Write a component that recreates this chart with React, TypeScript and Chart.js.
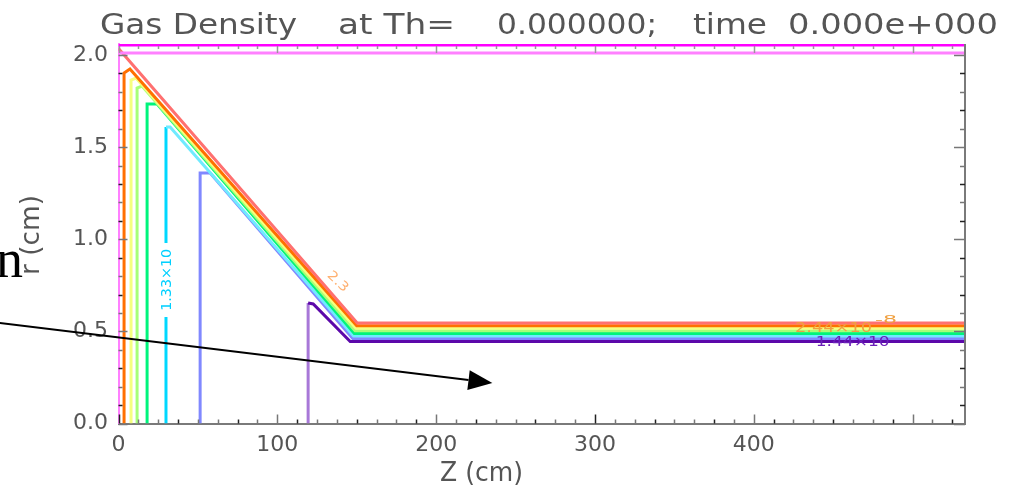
import React, { useEffect, useRef } from 'react';
import { Chart, registerables } from 'chart.js';

Chart.register(...registerables);

// ---- axes ----
const X_MIN = 0;
const X_MAX = 533;
const Y_MIN = 0;
const Y_MAX = 2.06;
const xTickValues = [0, 100, 200, 300, 400];
const yTickValues = [0, 0.5, 1.0, 1.5, 2.0];

// ---- contours (z in cm, r in cm) ----
const magentaZ = [0, 533];
const magentaR = [2.054, 2.054];
const pinkZ = [0, 0, 533];
const pinkR = [0, 2.011, 2.011];
const redZ = [0, 150.3, 533];
const redR = [2.036, 0.545, 0.545];
const orangeZ = [3.5, 3.5, 7.2, 150, 533];
const orangeR = [0, 1.902, 1.924, 0.531, 0.531];
const yellowZ = [7.9, 7.9, 11, 149.5, 533];
const yellowR = [0, 1.864, 1.875, 0.517, 0.517];
const lgreenZ = [11.7, 11.7, 14.8, 149, 533];
const lgreenR = [0, 1.821, 1.832, 0.503, 0.503];
const greenZ = [18, 18, 24.3, 148.5, 533];
const greenR = [0, 1.734, 1.734, 0.489, 0.489];
const cyanZ = [29.9, 29.9, 29.9, 29.9, 29.9, 32.5, 148, 533];
const cyanR = [0, 0.578, null, 0.98, 1.609, 1.609, 0.475, 0.475];
const blueZ = [51.4, 51.4, 57.7, 147.5, 533];
const blueR = [0, 1.36, 1.36, 0.461, 0.461];
const purpleZ = [119.4, 119.4, 122.6, 145.9, 533];
const purpleR = [0, 0.654, 0.649, 0.445, 0.445];

// ---- annotations (data coordinates) ----
const arrowFrom = { z: -74.7, r: 0.545 };
const arrowTo = { z: 235.4, r: 0.22 };
const cyanLabel = { z: 29.9, r: 0.78, text: '1.33×10' };
const purpleLabel = { z: 439, r: 0.42, text: '1.44×10' };
const orangeLabel = { z: 426, r: 0.497, text: '2.44×10', exp: '-8' };
const diagLabel = { z: 131, r: 0.8, text: '2.3' };

const LIGHT = '"DejaVu Sans ExtraLight", "DejaVu Sans", sans-serif';

const zip = (zs: number[], rs: (number | null)[]) => zs.map((z, i) => ({ x: z, y: rs[i] }));

function fitText(ctx: CanvasRenderingContext2D, text: string, x: number, y: number, w: number) {
  const m = ctx.measureText(text).width;
  ctx.save();
  ctx.translate(x, y);
  ctx.scale(w / m, 1);
  ctx.textAlign = 'left';
  ctx.fillText(text, 0, 0);
  ctx.restore();
}

const overlay = {
  id: 'overlay',
  afterDraw(chart: any) {
    const ctx: CanvasRenderingContext2D = chart.ctx;
    const xs = chart.scales.x;
    const ys = chart.scales.y;
    const { left, right, top, bottom } = chart.chartArea;
    ctx.save();

    // right axis line
    ctx.strokeStyle = '#7a7a7a';
    ctx.lineWidth = 2;
    ctx.beginPath();
    ctx.moveTo(right, top);
    ctx.lineTo(right, bottom);
    ctx.stroke();

    // ticks (inward)
    ctx.lineWidth = 1.5;
    for (let i = 0; i <= 20; i++) {
      const v = i * 0.1;
      const py = Math.round(ys.getPixelForValue(v)) + 0.5;
      const major = i % 5 === 0;
      ctx.strokeStyle = major ? '#777' : (i % 2 ? '#222' : '#777');
      ctx.beginPath();
      ctx.moveTo(right, py);
      ctx.lineTo(right - (major ? 11 : 5), py);
      ctx.stroke();
      ctx.beginPath();
      ctx.moveTo(left, py);
      ctx.lineTo(left + (major ? 9 : 4), py);
      ctx.stroke();
    }
    for (let i = 0; i * 12.5 <= X_MAX; i++) {
      const v = i * 12.5;
      const px = Math.round(xs.getPixelForValue(v)) + 0.5;
      const major = v % 100 === 0;
      ctx.strokeStyle = i % 3 === 0 ? '#222' : '#777';
      ctx.beginPath();
      ctx.moveTo(px, bottom);
      ctx.lineTo(px, bottom - (major ? 9 : 4));
      ctx.stroke();
      ctx.strokeStyle = '#999';
      ctx.beginPath();
      ctx.moveTo(px, top + 2);
      ctx.lineTo(px, top + (major ? 9 : 5));
      ctx.stroke();
    }

    // title
    ctx.fillStyle = '#555';
    ctx.font = `29px ${LIGHT}`;
    ctx.textBaseline = 'alphabetic';
    fitText(ctx, 'Gas Density', 100, 34, 197);
    fitText(ctx, 'at Th=', 338, 34, 117);
    fitText(ctx, '0.000000;', 497, 34, 160);
    fitText(ctx, 'time', 693, 34, 74);
    fitText(ctx, '0.000e+000', 788, 34, 210);

    // axis titles
    ctx.font = `26px ${LIGHT}`;
    fitText(ctx, 'Z (cm)', 440, 481, 83);
    ctx.save();
    ctx.translate(39, 275);
    ctx.rotate(-Math.PI / 2);
    fitText(ctx, 'r (cm)', 0, 0, 80);
    ctx.restore();

    // contour labels
    ctx.font = '14px "DejaVu Sans"';
    ctx.fillStyle = '#00d0ff';
    ctx.save();
    ctx.translate(xs.getPixelForValue(cyanLabel.z) + 5, ys.getPixelForValue(cyanLabel.r) + 31);
    ctx.rotate(-Math.PI / 2);
    fitText(ctx, cyanLabel.text, 0, 0, 62);
    ctx.restore();

    ctx.fillStyle = '#6a20b8';
    fitText(ctx, purpleLabel.text, xs.getPixelForValue(purpleLabel.z), ys.getPixelForValue(purpleLabel.r), 74);
    ctx.fillStyle = '#f0a040';
    fitText(ctx, orangeLabel.text, xs.getPixelForValue(orangeLabel.z), ys.getPixelForValue(orangeLabel.r), 77);
    ctx.font = '11px "DejaVu Sans"';
    fitText(ctx, orangeLabel.exp, xs.getPixelForValue(orangeLabel.z) + 80, ys.getPixelForValue(orangeLabel.r) - 9, 22);

    ctx.font = '13px "DejaVu Sans"';
    ctx.fillStyle = '#ffb070';
    ctx.save();
    ctx.translate(xs.getPixelForValue(diagLabel.z), ys.getPixelForValue(diagLabel.r));
    ctx.rotate(0.75);
    fitText(ctx, diagLabel.text, 0, 0, 24);
    ctx.restore();

    // big "n"
    ctx.fillStyle = '#000';
    ctx.font = '54px "Liberation Serif"';
    ctx.textAlign = 'left';
    ctx.fillText('n', -4, 277);

    // arrow
    const x0 = xs.getPixelForValue(arrowFrom.z);
    const y0 = ys.getPixelForValue(arrowFrom.r);
    const x1 = xs.getPixelForValue(arrowTo.z);
    const y1 = ys.getPixelForValue(arrowTo.r);
    const ang = Math.atan2(y1 - y0, x1 - x0);
    const hl = 24;
    const hw = 10;
    const bx = x1 - hl * Math.cos(ang);
    const by = y1 - hl * Math.sin(ang);
    ctx.strokeStyle = '#000';
    ctx.lineWidth = 2;
    ctx.beginPath();
    ctx.moveTo(x0, y0);
    ctx.lineTo(bx, by);
    ctx.stroke();
    ctx.fillStyle = '#000';
    ctx.beginPath();
    ctx.moveTo(x1, y1);
    ctx.lineTo(bx + hw * Math.sin(ang), by - hw * Math.cos(ang));
    ctx.lineTo(bx - hw * Math.sin(ang), by + hw * Math.cos(ang));
    ctx.closePath();
    ctx.fill();

    ctx.restore();
  },
};

export default function App() {
  const ref = useRef<HTMLCanvasElement>(null);
  useEffect(() => {
    if (!ref.current) return;
    const ds = (label: string, zs: number[], rs: (number | null)[], color: string, extra: any = {}) => ({
      label,
      data: zip(zs, rs),
      borderColor: color,
      borderWidth: 3,
      pointRadius: 0,
      tension: 0,
      spanGaps: false,
      ...extra,
    });
    const chart = new Chart(ref.current, {
      type: 'line',
      data: {
        datasets: [
          ds('magenta', magentaZ, magentaR, '#ff00ff'),
          ds('pink', pinkZ, pinkR, '#ff80ff'),
          ds('red', redZ, redR, '#ff7070'),
          ds('orange', orangeZ, orangeR, '#ff7000'),
          ds('yellow', yellowZ, yellowR, '#f6ff80'),
          ds('lightgreen', lgreenZ, lgreenR, '#a8ff78'),
          ds('green', greenZ, greenR, '#00f47c'),
          ds('cyan', cyanZ, cyanR, '#70eaff', {
            segment: { borderColor: (c: any) => (c.p0.parsed.x === c.p1.parsed.x ? '#00d8ff' : '#70eaff') },
          }),
          ds('blue', blueZ, blueR, '#8088ff'),
          ds('purple', purpleZ, purpleR, '#5c08aa', {
            segment: { borderColor: (c: any) => (c.p0.parsed.x === c.p1.parsed.x ? '#a878d8' : '#5c08aa') },
          }),
        ],
      },
      options: {
        responsive: false,
        animation: false,
        events: [],
        layout: { padding: { left: 0, right: 54, top: 44, bottom: 0 } },
        plugins: { legend: { display: false }, tooltip: { enabled: false }, title: { display: false } },
        scales: {
          x: {
            type: 'linear',
            min: X_MIN,
            max: X_MAX,
            position: 'bottom',
            afterFit: (s: any) => { s.height = 63.5; },
            afterBuildTicks: (s: any) => { s.ticks = xTickValues.map((v) => ({ value: v })); },
            grid: { drawOnChartArea: false, drawTicks: false },
            border: { color: '#7a7a7a', width: 2 },
            ticks: {
              padding: 9,
              color: '#555',
              font: { family: LIGHT, size: 22 },
              maxRotation: 0,
              autoSkip: false,
              callback: (v: any) => String(v),
            },
          },
          y: {
            type: 'linear',
            min: Y_MIN,
            max: Y_MAX,
            afterFit: (s: any) => { s.width = 118.5; },
            afterBuildTicks: (s: any) => { s.ticks = yTickValues.map((v) => ({ value: v })); },
            grid: { drawOnChartArea: false, drawTicks: false },
            border: { color: '#ff80ff', width: 2 },
            ticks: {
              padding: 10.5,
              color: '#555',
              font: { family: LIGHT, size: 22 },
              autoSkip: false,
              callback: (v: any) => Number(v).toFixed(1),
            },
          },
        },
      },
      plugins: [overlay],
    });
    return () => chart.destroy();
  }, []);
  return (
    <div style={{ position: 'fixed', left: 0, top: 0, width: 1019, height: 487, background: '#fff' }}>
      <canvas ref={ref} width={1019} height={487} style={{ width: 1019, height: 487, display: 'block' }} />
    </div>
  );
}
